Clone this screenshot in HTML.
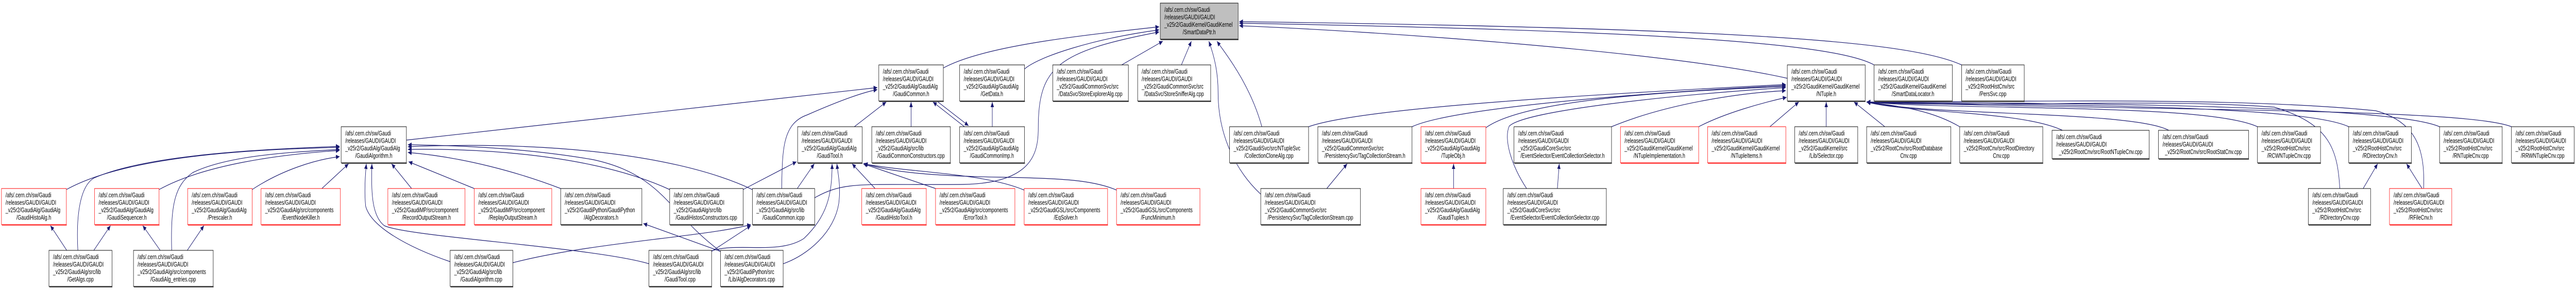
<!DOCTYPE html>
<html><head><meta charset="utf-8"><style>
html,body{margin:0;padding:0;background:#fff;width:100%;height:100%;overflow:hidden}
svg{display:block;position:absolute;left:0;top:0;width:100vw;height:100vh}
text{font-family:"Liberation Sans",sans-serif;font-size:12.5px;fill:#000}
.b rect.r{fill:#fff;stroke:#000;stroke-width:1}
.b rect.s{fill:#555}
.red rect.r{stroke:#f00}
.red rect.s{fill:#f55}
.g rect.r{fill:#bfbfbf}
.e path{fill:none;stroke:#191970;stroke-width:1.2}
</style></head><body>
<svg viewBox="0 0 6947 563" preserveAspectRatio="none" xmlns="http://www.w3.org/2000/svg">
<defs><marker id="a" markerUnits="userSpaceOnUse" markerWidth="11" markerHeight="9" refX="10" refY="4.5" orient="auto"><path d="M0,0 L10,4.5 L0,9 z" fill="#191970"/></marker></defs>
<g class="e">
<path marker-end="url(#a)" d="M2544,132 C2650,90 2900,70 3126,52"/>
<path marker-end="url(#a)" d="M2763,134 C2800,110 2950,75 3126,58"/>
<path marker-end="url(#a)" d="M2197,384 C2280,350 2330,360 2600,358 C2780,355 2800,300 2800,250 C2800,130 2850,100 3126,62"/>
<path marker-end="url(#a)" d="M3025,126 L3136,80"/>
<path marker-end="url(#a)" d="M3186,126 L3213,80"/>
<path marker-end="url(#a)" d="M3400,377 C3330,330 3285,260 3285,180 C3285,140 3275,110 3260,80"/>
<path marker-end="url(#a)" d="M3403,246 C3370,160 3300,100 3282,80"/>
<path marker-end="url(#a)" d="M4820,152 C4500,100 3700,60 3342,50"/>
<path marker-end="url(#a)" d="M5054,126 C4950,85 4500,60 3342,45"/>
<path marker-end="url(#a)" d="M5290,126 C5150,80 4700,55 3342,42"/>
<path marker-end="url(#a)" d="M3529,246 C3650,215 4100,190 4816,164"/>
<path marker-end="url(#a)" d="M3808,246 C3900,215 4300,185 4816,166"/>
<path marker-end="url(#a)" d="M4007,248 C4100,200 4400,180 4816,168"/>
<path marker-end="url(#a)" d="M4117,366 C4075,320 4055,270 4070,245 C4110,215 4500,185 4816,170"/>
<path marker-end="url(#a)" d="M4346,246 C4500,200 4700,180 4816,176"/>
<path marker-end="url(#a)" d="M4581,246 C4650,220 4750,200 4818,189"/>
<path marker-end="url(#a)" d="M4773,246 L4851,198"/>
<path marker-end="url(#a)" d="M4925,246 L4925,198"/>
<path marker-end="url(#a)" d="M5083,246 L5000,198"/>
<path marker-end="url(#a)" d="M5285,246 C5200,210 5100,205 5034,198"/>
<path marker-end="url(#a)" d="M5562,253 C5450,215 5150,220 5034,198"/>
<path marker-end="url(#a)" d="M5849,253 C5750,215 5200,225 5034,198"/>
<path marker-end="url(#a)" d="M6088,246 C5950,200 5300,215 5034,198"/>
<path marker-end="url(#a)" d="M6334,246 C6200,200 5400,205 5034,198"/>
<path marker-end="url(#a)" d="M6579,246 C6450,205 5600,200 5034,198"/>
<path marker-end="url(#a)" d="M6773,246 C6650,210 5800,215 5034,198"/>
<path marker-end="url(#a)" d="M6310,366 C6304,287 6280,240 6133,208 C5800,190 5300,210 5034,198"/>
<path marker-end="url(#a)" d="M6536,366 C6540,294 6520,237 6407,215 C6000,185 5300,200 5034,198"/>
<path marker-end="url(#a)" d="M1096,272 L2366,170"/>
<path marker-end="url(#a)" d="M2108,366 C2110,290 2110,240 2177,223 C2250,200 2320,180 2366,174"/>
<path marker-end="url(#a)" d="M2304,246 L2390,198"/>
<path marker-end="url(#a)" d="M2457,246 L2457,198"/>
<path marker-end="url(#a)" d="M2601,246 L2516,198"/>
<path marker-end="url(#a)" d="M2526,196 L2612,244"/>
<path marker-end="url(#a)" d="M2676,246 L2676,198"/>
<path marker-end="url(#a)" d="M2004,368 L2148,314"/>
<path marker-end="url(#a)" d="M2150,366 L2196,318"/>
<path marker-end="url(#a)" d="M1919,487 C1990,470 2100,495 2168,463 C2230,420 2244,380 2244,318"/>
<path marker-end="url(#a)" d="M2112,512 C2180,495 2250,450 2262,395 C2268,360 2260,340 2257,318"/>
<path marker-end="url(#a)" d="M2360,366 L2298,318"/>
<path marker-end="url(#a)" d="M2523,366 L2328,318"/>
<path marker-end="url(#a)" d="M2762,369 C2650,335 2450,335 2330,318"/>
<path marker-end="url(#a)" d="M3011,369 C2950,350 2866,346 2700,344 C2530,342 2400,335 2330,317"/>
<path marker-end="url(#a)" d="M179,368 C350,300 700,290 916,286"/>
<path marker-end="url(#a)" d="M210,486 C205,420 215,360 255,345 C400,300 700,290 916,284"/>
<path marker-end="url(#a)" d="M429,368 C550,320 750,300 916,292"/>
<path marker-end="url(#a)" d="M463,486 C460,400 470,360 520,335 C620,300 800,295 916,290"/>
<path marker-end="url(#a)" d="M680,368 C760,330 850,310 916,304"/>
<path marker-end="url(#a)" d="M868,366 L940,318"/>
<path marker-end="url(#a)" d="M1110,366 L1056,318"/>
<path marker-end="url(#a)" d="M1279,366 L1102,314"/>
<path marker-end="url(#a)" d="M1214,508 C1100,480 1000,440 986,400 C982,370 985,340 988,318"/>
<path marker-end="url(#a)" d="M1750,512 C1600,480 1100,460 1036,438 C1005,420 1000,380 1003,318"/>
<path marker-end="url(#a)" d="M1512,366 C1400,335 1250,305 1100,296"/>
<path marker-end="url(#a)" d="M1806,368 C1600,300 1300,288 1100,290"/>
<path marker-end="url(#a)" d="M2029,368 C1800,290 1400,275 1100,285"/>
<path marker-end="url(#a)" d="M1943,488 C1802,413 1790,340 1600,310 C1400,285 1200,282 1100,281"/>
<path marker-end="url(#a)" d="M180,486 L136,438"/>
<path marker-end="url(#a)" d="M253,486 L298,438"/>
<path marker-end="url(#a)" d="M432,486 L385,438"/>
<path marker-end="url(#a)" d="M505,486 L550,438"/>
<path marker-end="url(#a)" d="M1919,488 L2025,438"/>
<path marker-end="url(#a)" d="M1383,510 C1600,470 1900,460 2025,436"/>
<path marker-end="url(#a)" d="M1943,488 L1735,434"/>
<path marker-end="url(#a)" d="M3578,366 L3633,318"/>
<path marker-end="url(#a)" d="M3920,366 L3920,318"/>
<path marker-end="url(#a)" d="M4200,366 L4205,318"/>
<path marker-end="url(#a)" d="M6373,366 L6412,318"/>
<path marker-end="url(#a)" d="M6532,366 L6490,318"/>
</g>

<g class="b g" transform="translate(3129,6)"><rect class="s" x="1" y="70" width="210" height="2"/><rect class="r" width="210" height="70"/><text x="11" y="17">/afs/.cern.ch/sw/Gaudi</text><text x="11" y="31.5">/releases/GAUDI/GAUDI</text><text x="11" y="46">_v25r2/GaudiKernel/GaudiKernel</text><text x="105" y="60.5" text-anchor="middle">/SmartDataPtr.h</text></g>

<g class="b" transform="translate(2370,126)"><rect class="s" x="1" y="70" width="174" height="2"/><rect class="r" width="174" height="70"/><text x="11" y="17">/afs/.cern.ch/sw/Gaudi</text><text x="11" y="31.5">/releases/GAUDI/GAUDI</text><text x="11" y="46">_v25r2/GaudiAlg/GaudiAlg</text><text x="87" y="60.5" text-anchor="middle">/GaudiCommon.h</text></g>
<g class="b" transform="translate(2588,126)"><rect class="s" x="1" y="70" width="175" height="2"/><rect class="r" width="175" height="70"/><text x="11" y="17">/afs/.cern.ch/sw/Gaudi</text><text x="11" y="31.5">/releases/GAUDI/GAUDI</text><text x="11" y="46">_v25r2/GaudiAlg/GaudiAlg</text><text x="87" y="60.5" text-anchor="middle">/GetData.h</text></g>
<g class="b" transform="translate(2839,126)"><rect class="s" x="1" y="70" width="204" height="2"/><rect class="r" width="204" height="70"/><text x="11" y="17">/afs/.cern.ch/sw/Gaudi</text><text x="11" y="31.5">/releases/GAUDI/GAUDI</text><text x="11" y="46">_v25r2/GaudiCommonSvc/src</text><text x="102" y="60.5" text-anchor="middle">/DataSvc/StoreExplorerAlg.cpp</text></g>
<g class="b" transform="translate(3068,126)"><rect class="s" x="1" y="70" width="197" height="2"/><rect class="r" width="197" height="70"/><text x="11" y="17">/afs/.cern.ch/sw/Gaudi</text><text x="11" y="31.5">/releases/GAUDI/GAUDI</text><text x="11" y="46">_v25r2/GaudiCommonSvc/src</text><text x="98" y="60.5" text-anchor="middle">/DataSvc/StoreSnifferAlg.cpp</text></g>
<g class="b" transform="translate(4820,126)"><rect class="s" x="1" y="70" width="210" height="2"/><rect class="r" width="210" height="70"/><text x="11" y="17">/afs/.cern.ch/sw/Gaudi</text><text x="11" y="31.5">/releases/GAUDI/GAUDI</text><text x="11" y="46">_v25r2/GaudiKernel/GaudiKernel</text><text x="105" y="60.5" text-anchor="middle">/NTuple.h</text></g>
<g class="b" transform="translate(5054,126)"><rect class="s" x="1" y="70" width="211" height="2"/><rect class="r" width="211" height="70"/><text x="11" y="17">/afs/.cern.ch/sw/Gaudi</text><text x="11" y="31.5">/releases/GAUDI/GAUDI</text><text x="11" y="46">_v25r2/GaudiKernel/GaudiKernel</text><text x="105" y="60.5" text-anchor="middle">/SmartDataLocator.h</text></g>
<g class="b" transform="translate(5290,126)"><rect class="s" x="1" y="70" width="169" height="2"/><rect class="r" width="169" height="70"/><text x="11" y="17">/afs/.cern.ch/sw/Gaudi</text><text x="11" y="31.5">/releases/GAUDI/GAUDI</text><text x="11" y="46">_v25r2/RootHistCnv/src</text><text x="84" y="60.5" text-anchor="middle">/PersSvc.cpp</text></g>

<g class="b" transform="translate(920,246)"><rect class="s" x="1" y="70" width="176" height="2"/><rect class="r" width="176" height="70"/><text x="11" y="17">/afs/.cern.ch/sw/Gaudi</text><text x="11" y="31.5">/releases/GAUDI/GAUDI</text><text x="11" y="46">_v25r2/GaudiAlg/GaudiAlg</text><text x="88" y="60.5" text-anchor="middle">/GaudiAlgorithm.h</text></g>
<g class="b" transform="translate(2151,246)"><rect class="s" x="1" y="70" width="174" height="2"/><rect class="r" width="174" height="70"/><text x="11" y="17">/afs/.cern.ch/sw/Gaudi</text><text x="11" y="31.5">/releases/GAUDI/GAUDI</text><text x="11" y="46">_v25r2/GaudiAlg/GaudiAlg</text><text x="87" y="60.5" text-anchor="middle">/GaudiTool.h</text></g>
<g class="b" transform="translate(2351,246)"><rect class="s" x="1" y="70" width="212" height="2"/><rect class="r" width="212" height="70"/><text x="11" y="17">/afs/.cern.ch/sw/Gaudi</text><text x="11" y="31.5">/releases/GAUDI/GAUDI</text><text x="11" y="46">_v25r2/GaudiAlg/src/lib</text><text x="106" y="60.5" text-anchor="middle">/GaudiCommonConstructors.cpp</text></g>
<g class="b" transform="translate(2588,246)"><rect class="s" x="1" y="70" width="175" height="2"/><rect class="r" width="175" height="70"/><text x="11" y="17">/afs/.cern.ch/sw/Gaudi</text><text x="11" y="31.5">/releases/GAUDI/GAUDI</text><text x="11" y="46">_v25r2/GaudiAlg/GaudiAlg</text><text x="87" y="60.5" text-anchor="middle">/GaudiCommonImp.h</text></g>
<g class="b" transform="translate(3316,246)"><rect class="s" x="1" y="70" width="213" height="2"/><rect class="r" width="213" height="70"/><text x="11" y="17">/afs/.cern.ch/sw/Gaudi</text><text x="11" y="31.5">/releases/GAUDI/GAUDI</text><text x="11" y="46">_v25r2/GaudiSvc/src/NTupleSvc</text><text x="106" y="60.5" text-anchor="middle">/CollectionCloneAlg.cpp</text></g>
<g class="b" transform="translate(3554,246)"><rect class="s" x="1" y="70" width="254" height="2"/><rect class="r" width="254" height="70"/><text x="11" y="17">/afs/.cern.ch/sw/Gaudi</text><text x="11" y="31.5">/releases/GAUDI/GAUDI</text><text x="11" y="46">_v25r2/GaudiCommonSvc/src</text><text x="127" y="60.5" text-anchor="middle">/PersistencySvc/TagCollectionStream.h</text></g>
<g class="b red" transform="translate(3832,246)"><rect class="s" x="1" y="70" width="175" height="2"/><rect class="r" width="175" height="70"/><text x="11" y="17">/afs/.cern.ch/sw/Gaudi</text><text x="11" y="31.5">/releases/GAUDI/GAUDI</text><text x="11" y="46">_v25r2/GaudiAlg/GaudiAlg</text><text x="87" y="60.5" text-anchor="middle">/TupleObj.h</text></g>
<g class="b" transform="translate(4083,246)"><rect class="s" x="1" y="70" width="263" height="2"/><rect class="r" width="263" height="70"/><text x="11" y="17">/afs/.cern.ch/sw/Gaudi</text><text x="11" y="31.5">/releases/GAUDI/GAUDI</text><text x="11" y="46">_v25r2/GaudiCoreSvc/src</text><text x="131" y="60.5" text-anchor="middle">/EventSelector/EventCollectionSelector.h</text></g>
<g class="b red" transform="translate(4370,246)"><rect class="s" x="1" y="70" width="211" height="2"/><rect class="r" width="211" height="70"/><text x="11" y="17">/afs/.cern.ch/sw/Gaudi</text><text x="11" y="31.5">/releases/GAUDI/GAUDI</text><text x="11" y="46">_v25r2/GaudiKernel/GaudiKernel</text><text x="105" y="60.5" text-anchor="middle">/NTupleImplementation.h</text></g>
<g class="b red" transform="translate(4605,246)"><rect class="s" x="1" y="70" width="211" height="2"/><rect class="r" width="211" height="70"/><text x="11" y="17">/afs/.cern.ch/sw/Gaudi</text><text x="11" y="31.5">/releases/GAUDI/GAUDI</text><text x="11" y="46">_v25r2/GaudiKernel/GaudiKernel</text><text x="105" y="60.5" text-anchor="middle">/NTupleItems.h</text></g>
<g class="b" transform="translate(4840,246)"><rect class="s" x="1" y="70" width="170" height="2"/><rect class="r" width="170" height="70"/><text x="11" y="17">/afs/.cern.ch/sw/Gaudi</text><text x="11" y="31.5">/releases/GAUDI/GAUDI</text><text x="11" y="46">_v25r2/GaudiKernel/src</text><text x="85" y="60.5" text-anchor="middle">/Lib/Selector.cpp</text></g>
<g class="b" transform="translate(5034,246)"><rect class="s" x="1" y="70" width="227" height="2"/><rect class="r" width="227" height="70"/><text x="11" y="17">/afs/.cern.ch/sw/Gaudi</text><text x="11" y="31.5">/releases/GAUDI/GAUDI</text><text x="11" y="46">_v25r2/RootCnv/src/RootDatabase</text><text x="113" y="60.5" text-anchor="middle">Cnv.cpp</text></g>
<g class="b" transform="translate(5285,246)"><rect class="s" x="1" y="70" width="224" height="2"/><rect class="r" width="224" height="70"/><text x="11" y="17">/afs/.cern.ch/sw/Gaudi</text><text x="11" y="31.5">/releases/GAUDI/GAUDI</text><text x="11" y="46">_v25r2/RootCnv/src/RootDirectory</text><text x="112" y="60.5" text-anchor="middle">Cnv.cpp</text></g>
<g class="b" transform="translate(5534,253)"><rect class="s" x="1" y="55" width="262" height="2"/><rect class="r" width="262" height="55"/><text x="11" y="17">/afs/.cern.ch/sw/Gaudi</text><text x="11" y="31.5">/releases/GAUDI/GAUDI</text><text x="131" y="46" text-anchor="middle">_v25r2/RootCnv/src/RootNTupleCnv.cpp</text></g>
<g class="b" transform="translate(5821,253)"><rect class="s" x="1" y="55" width="243" height="2"/><rect class="r" width="243" height="55"/><text x="11" y="17">/afs/.cern.ch/sw/Gaudi</text><text x="11" y="31.5">/releases/GAUDI/GAUDI</text><text x="121" y="46" text-anchor="middle">_v25r2/RootCnv/src/RootStatCnv.cpp</text></g>
<g class="b" transform="translate(6088,246)"><rect class="s" x="1" y="70" width="170" height="2"/><rect class="r" width="170" height="70"/><text x="11" y="17">/afs/.cern.ch/sw/Gaudi</text><text x="11" y="31.5">/releases/GAUDI/GAUDI</text><text x="11" y="46">_v25r2/RootHistCnv/src</text><text x="85" y="60.5" text-anchor="middle">/RCWNTupleCnv.cpp</text></g>
<g class="b" transform="translate(6334,246)"><rect class="s" x="1" y="70" width="169" height="2"/><rect class="r" width="169" height="70"/><text x="11" y="17">/afs/.cern.ch/sw/Gaudi</text><text x="11" y="31.5">/releases/GAUDI/GAUDI</text><text x="11" y="46">_v25r2/RootHistCnv/src</text><text x="84" y="60.5" text-anchor="middle">/RDirectoryCnv.h</text></g>
<g class="b" transform="translate(6579,246)"><rect class="s" x="1" y="70" width="169" height="2"/><rect class="r" width="169" height="70"/><text x="11" y="17">/afs/.cern.ch/sw/Gaudi</text><text x="11" y="31.5">/releases/GAUDI/GAUDI</text><text x="11" y="46">_v25r2/RootHistCnv/src</text><text x="84" y="60.5" text-anchor="middle">/RNTupleCnv.cpp</text></g>
<g class="b" transform="translate(6773,246)"><rect class="s" x="1" y="70" width="169" height="2"/><rect class="r" width="169" height="70"/><text x="11" y="17">/afs/.cern.ch/sw/Gaudi</text><text x="11" y="31.5">/releases/GAUDI/GAUDI</text><text x="11" y="46">_v25r2/RootHistCnv/src</text><text x="84" y="60.5" text-anchor="middle">/RRWNTupleCnv.cpp</text></g>

<g class="b red" transform="translate(4,366)"><rect class="s" x="1" y="70" width="175" height="2"/><rect class="r" width="175" height="70"/><text x="11" y="17">/afs/.cern.ch/sw/Gaudi</text><text x="11" y="31.5">/releases/GAUDI/GAUDI</text><text x="11" y="46">_v25r2/GaudiAlg/GaudiAlg</text><text x="87" y="60.5" text-anchor="middle">/GaudiHistoAlg.h</text></g>
<g class="b red" transform="translate(255,366)"><rect class="s" x="1" y="70" width="174" height="2"/><rect class="r" width="174" height="70"/><text x="11" y="17">/afs/.cern.ch/sw/Gaudi</text><text x="11" y="31.5">/releases/GAUDI/GAUDI</text><text x="11" y="46">_v25r2/GaudiAlg/GaudiAlg</text><text x="87" y="60.5" text-anchor="middle">/GaudiSequencer.h</text></g>
<g class="b red" transform="translate(506,366)"><rect class="s" x="1" y="70" width="174" height="2"/><rect class="r" width="174" height="70"/><text x="11" y="17">/afs/.cern.ch/sw/Gaudi</text><text x="11" y="31.5">/releases/GAUDI/GAUDI</text><text x="11" y="46">_v25r2/GaudiAlg/GaudiAlg</text><text x="87" y="60.5" text-anchor="middle">/Prescaler.h</text></g>
<g class="b red" transform="translate(704,366)"><rect class="s" x="1" y="70" width="214" height="2"/><rect class="r" width="214" height="70"/><text x="11" y="17">/afs/.cern.ch/sw/Gaudi</text><text x="11" y="31.5">/releases/GAUDI/GAUDI</text><text x="11" y="46">_v25r2/GaudiAlg/src/components</text><text x="107" y="60.5" text-anchor="middle">/EventNodeKiller.h</text></g>
<g class="b red" transform="translate(1046,366)"><rect class="s" x="1" y="70" width="208" height="2"/><rect class="r" width="208" height="70"/><text x="11" y="17">/afs/.cern.ch/sw/Gaudi</text><text x="11" y="31.5">/releases/GAUDI/GAUDI</text><text x="11" y="46">_v25r2/GaudiMP/src/component</text><text x="104" y="60.5" text-anchor="middle">/RecordOutputStream.h</text></g>
<g class="b red" transform="translate(1279,366)"><rect class="s" x="1" y="70" width="209" height="2"/><rect class="r" width="209" height="70"/><text x="11" y="17">/afs/.cern.ch/sw/Gaudi</text><text x="11" y="31.5">/releases/GAUDI/GAUDI</text><text x="11" y="46">_v25r2/GaudiMP/src/component</text><text x="104" y="60.5" text-anchor="middle">/ReplayOutputStream.h</text></g>
<g class="b" transform="translate(1512,366)"><rect class="s" x="1" y="70" width="219" height="2"/><rect class="r" width="219" height="70"/><text x="11" y="17">/afs/.cern.ch/sw/Gaudi</text><text x="11" y="31.5">/releases/GAUDI/GAUDI</text><text x="11" y="46">_v25r2/GaudiPython/GaudiPython</text><text x="109" y="60.5" text-anchor="middle">/AlgDecorators.h</text></g>
<g class="b" transform="translate(1806,366)"><rect class="s" x="1" y="70" width="198" height="2"/><rect class="r" width="198" height="70"/><text x="11" y="17">/afs/.cern.ch/sw/Gaudi</text><text x="11" y="31.5">/releases/GAUDI/GAUDI</text><text x="11" y="46">_v25r2/GaudiAlg/src/lib</text><text x="99" y="60.5" text-anchor="middle">/GaudiHistosConstructors.cpp</text></g>
<g class="b" transform="translate(2029,366)"><rect class="s" x="1" y="70" width="168" height="2"/><rect class="r" width="168" height="70"/><text x="11" y="17">/afs/.cern.ch/sw/Gaudi</text><text x="11" y="31.5">/releases/GAUDI/GAUDI</text><text x="11" y="46">_v25r2/GaudiAlg/src/lib</text><text x="84" y="60.5" text-anchor="middle">/GaudiCommon.icpp</text></g>
<g class="b red" transform="translate(2324,366)"><rect class="s" x="1" y="70" width="174" height="2"/><rect class="r" width="174" height="70"/><text x="11" y="17">/afs/.cern.ch/sw/Gaudi</text><text x="11" y="31.5">/releases/GAUDI/GAUDI</text><text x="11" y="46">_v25r2/GaudiAlg/GaudiAlg</text><text x="87" y="60.5" text-anchor="middle">/GaudiHistoTool.h</text></g>
<g class="b red" transform="translate(2523,366)"><rect class="s" x="1" y="70" width="214" height="2"/><rect class="r" width="214" height="70"/><text x="11" y="17">/afs/.cern.ch/sw/Gaudi</text><text x="11" y="31.5">/releases/GAUDI/GAUDI</text><text x="11" y="46">_v25r2/GaudiAlg/src/components</text><text x="107" y="60.5" text-anchor="middle">/ErrorTool.h</text></g>
<g class="b red" transform="translate(2762,366)"><rect class="s" x="1" y="70" width="225" height="2"/><rect class="r" width="225" height="70"/><text x="11" y="17">/afs/.cern.ch/sw/Gaudi</text><text x="11" y="31.5">/releases/GAUDI/GAUDI</text><text x="11" y="46">_v25r2/GaudiGSL/src/Components</text><text x="112" y="60.5" text-anchor="middle">/EqSolver.h</text></g>
<g class="b red" transform="translate(3011,366)"><rect class="s" x="1" y="70" width="225" height="2"/><rect class="r" width="225" height="70"/><text x="11" y="17">/afs/.cern.ch/sw/Gaudi</text><text x="11" y="31.5">/releases/GAUDI/GAUDI</text><text x="11" y="46">_v25r2/GaudiGSL/src/Components</text><text x="112" y="60.5" text-anchor="middle">/FuncMinimum.h</text></g>
<g class="b" transform="translate(3400,366)"><rect class="s" x="1" y="70" width="269" height="2"/><rect class="r" width="269" height="70"/><text x="11" y="17">/afs/.cern.ch/sw/Gaudi</text><text x="11" y="31.5">/releases/GAUDI/GAUDI</text><text x="11" y="46">_v25r2/GaudiCommonSvc/src</text><text x="134" y="60.5" text-anchor="middle">/PersistencySvc/TagCollectionStream.cpp</text></g>
<g class="b red" transform="translate(3832,366)"><rect class="s" x="1" y="70" width="175" height="2"/><rect class="r" width="175" height="70"/><text x="11" y="17">/afs/.cern.ch/sw/Gaudi</text><text x="11" y="31.5">/releases/GAUDI/GAUDI</text><text x="11" y="46">_v25r2/GaudiAlg/GaudiAlg</text><text x="87" y="60.5" text-anchor="middle">/GaudiTuples.h</text></g>
<g class="b" transform="translate(4054,366)"><rect class="s" x="1" y="70" width="278" height="2"/><rect class="r" width="278" height="70"/><text x="11" y="17">/afs/.cern.ch/sw/Gaudi</text><text x="11" y="31.5">/releases/GAUDI/GAUDI</text><text x="11" y="46">_v25r2/GaudiCoreSvc/src</text><text x="139" y="60.5" text-anchor="middle">/EventSelector/EventCollectionSelector.cpp</text></g>
<g class="b" transform="translate(6225,366)"><rect class="s" x="1" y="70" width="168" height="2"/><rect class="r" width="168" height="70"/><text x="11" y="17">/afs/.cern.ch/sw/Gaudi</text><text x="11" y="31.5">/releases/GAUDI/GAUDI</text><text x="11" y="46">_v25r2/RootHistCnv/src</text><text x="84" y="60.5" text-anchor="middle">/RDirectoryCnv.cpp</text></g>
<g class="b red" transform="translate(6444,366)"><rect class="s" x="1" y="70" width="168" height="2"/><rect class="r" width="168" height="70"/><text x="11" y="17">/afs/.cern.ch/sw/Gaudi</text><text x="11" y="31.5">/releases/GAUDI/GAUDI</text><text x="11" y="46">_v25r2/RootHistCnv/src</text><text x="84" y="60.5" text-anchor="middle">/RFileCnv.h</text></g>

<g class="b" transform="translate(132,486)"><rect class="s" x="1" y="70" width="170" height="2"/><rect class="r" width="170" height="70"/><text x="11" y="17">/afs/.cern.ch/sw/Gaudi</text><text x="11" y="31.5">/releases/GAUDI/GAUDI</text><text x="11" y="46">_v25r2/GaudiAlg/src/lib</text><text x="85" y="60.5" text-anchor="middle">/GetAlgs.cpp</text></g>
<g class="b" transform="translate(360,486)"><rect class="s" x="1" y="70" width="215" height="2"/><rect class="r" width="215" height="70"/><text x="11" y="17">/afs/.cern.ch/sw/Gaudi</text><text x="11" y="31.5">/releases/GAUDI/GAUDI</text><text x="11" y="46">_v25r2/GaudiAlg/src/components</text><text x="107" y="60.5" text-anchor="middle">/GaudiAlg_entries.cpp</text></g>
<g class="b" transform="translate(1214,486)"><rect class="s" x="1" y="70" width="169" height="2"/><rect class="r" width="169" height="70"/><text x="11" y="17">/afs/.cern.ch/sw/Gaudi</text><text x="11" y="31.5">/releases/GAUDI/GAUDI</text><text x="11" y="46">_v25r2/GaudiAlg/src/lib</text><text x="84" y="60.5" text-anchor="middle">/GaudiAlgorithm.cpp</text></g>
<g class="b" transform="translate(1750,486)"><rect class="s" x="1" y="70" width="169" height="2"/><rect class="r" width="169" height="70"/><text x="11" y="17">/afs/.cern.ch/sw/Gaudi</text><text x="11" y="31.5">/releases/GAUDI/GAUDI</text><text x="11" y="46">_v25r2/GaudiAlg/src/lib</text><text x="84" y="60.5" text-anchor="middle">/GaudiTool.cpp</text></g>
<g class="b" transform="translate(1943,486)"><rect class="s" x="1" y="70" width="169" height="2"/><rect class="r" width="169" height="70"/><text x="11" y="17">/afs/.cern.ch/sw/Gaudi</text><text x="11" y="31.5">/releases/GAUDI/GAUDI</text><text x="11" y="46">_v25r2/GaudiPython/src</text><text x="84" y="60.5" text-anchor="middle">/Lib/AlgDecorators.cpp</text></g>
</svg>
</body></html>
